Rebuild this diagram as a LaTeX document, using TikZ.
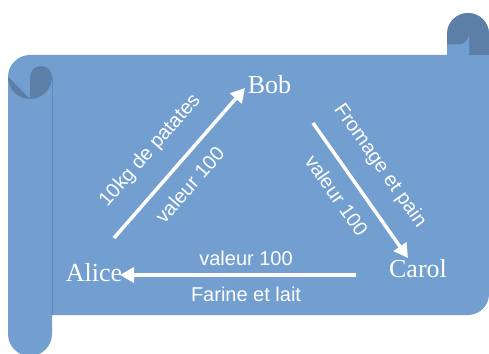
\documentclass[tikz,border=0pt]{standalone}
\usepackage{fontspec}
\setmainfont{Liberation Serif}
\newfontfamily\labelfont{Liberation Sans}
\usetikzlibrary{arrows.meta}
\definecolor{scroll}{HTML}{729FCF}
\definecolor{scrolldark}{HTML}{5B7FA6}
\definecolor{scrolledge}{HTML}{5A8AC6}
\begin{document}
\begin{tikzpicture}[x=1pt,y=1pt,
  person/.style={text=white, font=\fontsize{26}{30}\selectfont, inner sep=0pt, anchor=base},
  deal/.style={white, line width=3.5pt, -{Triangle[length=14pt,width=15pt]}},
  tag/.style={text=white, font=\labelfont\fontsize{20}{24}\selectfont, inner sep=0pt},
]
\useasboundingbox (0,0) rectangle (489,353);

% scroll body with both rolls
\fill[scroll] (8,276) arc[start angle=180,end angle=90,radius=22] -- (447,298) -- (447,319)
  arc[start angle=180,end angle=0,radius=21] -- (489,59)
  arc[start angle=0,end angle=-90,radius=21] -- (52,38) -- (52,19)
  arc[start angle=0,end angle=-180,radius=22] -- cycle;

% upper right roll
\fill[scrolldark] (447,298) -- (447,319) arc[start angle=180,end angle=0,radius=21] -- (489,298) -- cycle;
\fill[scroll] (447,298) -- (447,308.5) -- (458.5,308.5) arc[start angle=-90,end angle=0,radius=10.5] -- (469,298) -- cycle;

% left roll curl
\fill[scrolldark] (8,276) arc[start angle=180,end angle=270,radius=22] -- cycle;
\fill[scrolldark] (30,254) -- (30,276) arc[start angle=180,end angle=0,radius=11]
  arc[start angle=0,end angle=-90,radius=22] -- cycle;
\draw[scrolledge, line width=0.8pt] (52,276) -- (52,38);

% parties
\node[person] (bob) at (269.5,259) {Bob};
\node[person] (alice) at (94,71) {Alice};
\node[person] (carol) at (418,75) {Carol};

% arrow ends
\coordinate (ab-s) at (114,115);
\coordinate (ab-e) at (245,265);
\coordinate (bc-s) at (313,230);
\coordinate (bc-e) at (408,95);
\coordinate (ca-s) at (356,78);
\coordinate (ca-e) at (120,78);

% exchanges
\draw[deal] (ab-s) -- node[tag, sloped, pos=.45, above=19pt] {10kg de patates}
  node[tag, sloped, pos=.45, below=13pt] {valeur 100} (ab-e);
\draw[deal] (bc-s) -- node[tag, sloped, pos=.445, above=19pt] {Fromage et pain}
  node[tag, sloped, pos=.44, below=13pt] {valeur 100} (bc-e);
\draw[deal] (ca-s) -- node[tag, pos=.466, above=7.75pt] {valeur 100}
  node[tag, pos=.466, below=10.75pt] {Farine et lait} (ca-e);
\end{tikzpicture}
\end{document}
